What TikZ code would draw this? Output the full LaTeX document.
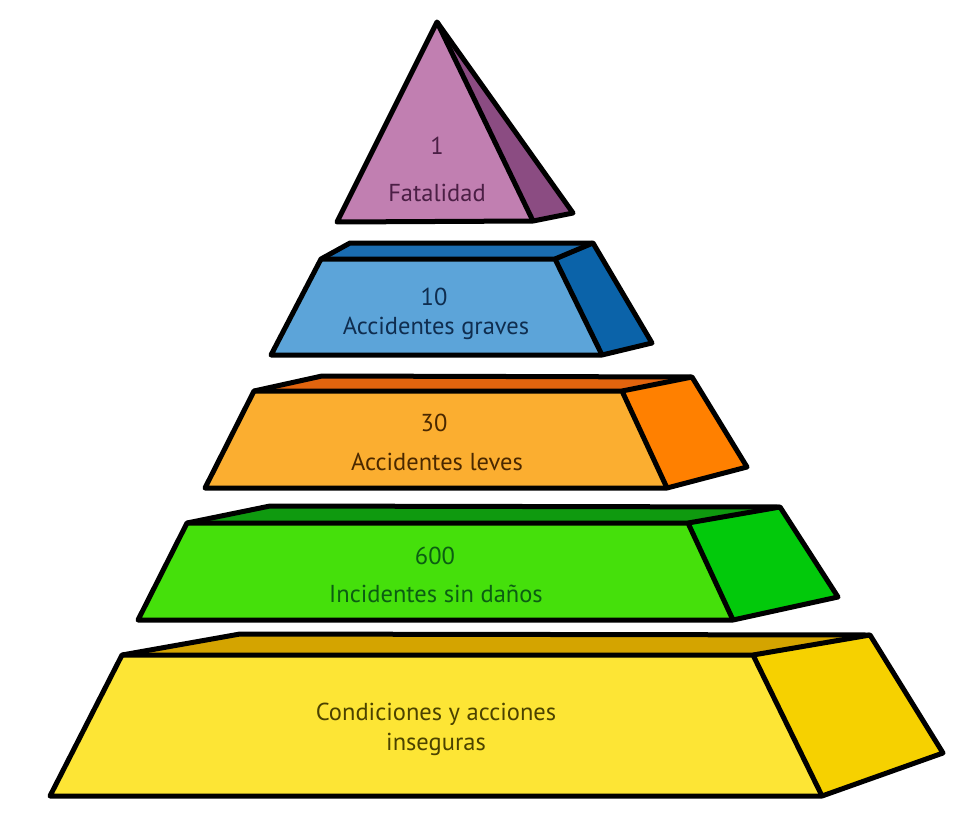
\documentclass[tikz,border=0pt]{standalone}
\usepackage{fontspec}
\setmainfont{PT Sans}
\definecolor{pfront}{HTML}{C17FB1}
\definecolor{pside}{HTML}{8B4C82}
\definecolor{ptext}{HTML}{4B1F45}
\definecolor{bfront}{HTML}{5CA4D9}
\definecolor{bside}{HTML}{0B63A9}
\definecolor{btop}{HTML}{1A6CB0}
\definecolor{btext}{HTML}{0F2D4F}
\definecolor{ofront}{HTML}{FBAE30}
\definecolor{oside}{HTML}{FF8000}
\definecolor{otop}{HTML}{E2640E}
\definecolor{otext}{HTML}{4A2800}
\definecolor{gfront}{HTML}{45E00B}
\definecolor{gside}{HTML}{02C90B}
\definecolor{gtop}{HTML}{0F9A0F}
\definecolor{gtext}{HTML}{0B5E12}
\definecolor{yfront}{HTML}{FDE535}
\definecolor{yside}{HTML}{F6D100}
\definecolor{ytop}{HTML}{D4A400}
\definecolor{ytext}{HTML}{4B4200}
\begin{document}
\begin{tikzpicture}[x=1pt,y=-1pt,
  edge/.style={draw=black, line width=5pt, line join=round},
  lbl/.style={font=\fontsize{24.5}{28}\selectfont, align=center, inner sep=0pt}]
\useasboundingbox (0,0) rectangle (957,818);
% yellow
\fill[ytop] (122,655) -- (753,655) -- (870,635) -- (240,634) -- cycle;
\fill[yside] (753,655) -- (870,635) -- (943,753) -- (822,796) -- cycle;
\fill[yfront] (122,655) -- (753,655) -- (822,796) -- (50,796) -- cycle;
\draw[edge] (50,796) -- (122,655) -- (240,634) -- (870,635) -- (943,753) -- (822,796) -- cycle;
\draw[edge] (122,655) -- (753,655) -- (822,796);
\draw[edge] (753,655) -- (870,635);
% green
\fill[gtop] (187,523) -- (688,523) -- (780,507) -- (270,506) -- cycle;
\fill[gside] (688,523) -- (780,507) -- (838,597) -- (733,620) -- cycle;
\fill[gfront] (187,523) -- (688,523) -- (733,620) -- (138,620) -- cycle;
\draw[edge] (138,620) -- (187,523) -- (270,506) -- (780,507) -- (838,597) -- (733,620) -- cycle;
\draw[edge] (187,523) -- (688,523) -- (733,620);
\draw[edge] (688,523) -- (780,507);
% orange
\fill[otop] (254,391) -- (622,391) -- (692,377) -- (322,376) -- cycle;
\fill[oside] (622,391) -- (692,377) -- (747,467) -- (667,488) -- cycle;
\fill[ofront] (254,391) -- (622,391) -- (667,488) -- (205,488) -- cycle;
\draw[edge] (205,488) -- (254,391) -- (322,376) -- (692,377) -- (747,467) -- (667,488) -- cycle;
\draw[edge] (254,391) -- (622,391) -- (667,488);
\draw[edge] (622,391) -- (692,377);
% blue
\fill[btop] (321,259) -- (555,259) -- (593,243) -- (350,243) -- cycle;
\fill[bside] (555,259) -- (593,243) -- (652,343) -- (602,355) -- cycle;
\fill[bfront] (321,259) -- (555,259) -- (602,355) -- (271,355) -- cycle;
\draw[edge] (271,355) -- (321,259) -- (350,243) -- (593,243) -- (652,343) -- (602,355) -- cycle;
\draw[edge] (321,259) -- (555,259) -- (602,355);
\draw[edge] (555,259) -- (593,243);
% purple
\fill[pside] (437,22) -- (573,213) -- (533,221) -- cycle;
\fill[pfront] (437,22) -- (533,221) -- (337,222) -- cycle;
\draw[edge] (437,22) -- (573,213) -- (533,221) -- (337,222) -- cycle;
\draw[edge] (437,22) -- (533,221);
% labels
\node[lbl, text=ptext] (p1) at (437,146) {1};
\node[lbl, text=ptext] (p2) at (437,193) {Fatalidad};
\node[lbl, text=btext] (b1) at (434,297) {10};
\node[lbl, text=btext] (b2) at (436,328) {Accidentes graves};
\node[lbl, text=otext] (o1) at (434,423) {30};
\node[lbl, text=otext] (o2) at (437,462) {Accidentes leves};
\node[lbl, text=gtext] (g1) at (435,556) {600};
\node[lbl, text=gtext] (g2) at (436,594) {Incidentes sin daños};
\node[lbl, text=ytext] (y1) at (436,714) {Condiciones y acciones};
\node[lbl, text=ytext] (y2) at (436,744) {inseguras};
\end{tikzpicture}
\end{document}
